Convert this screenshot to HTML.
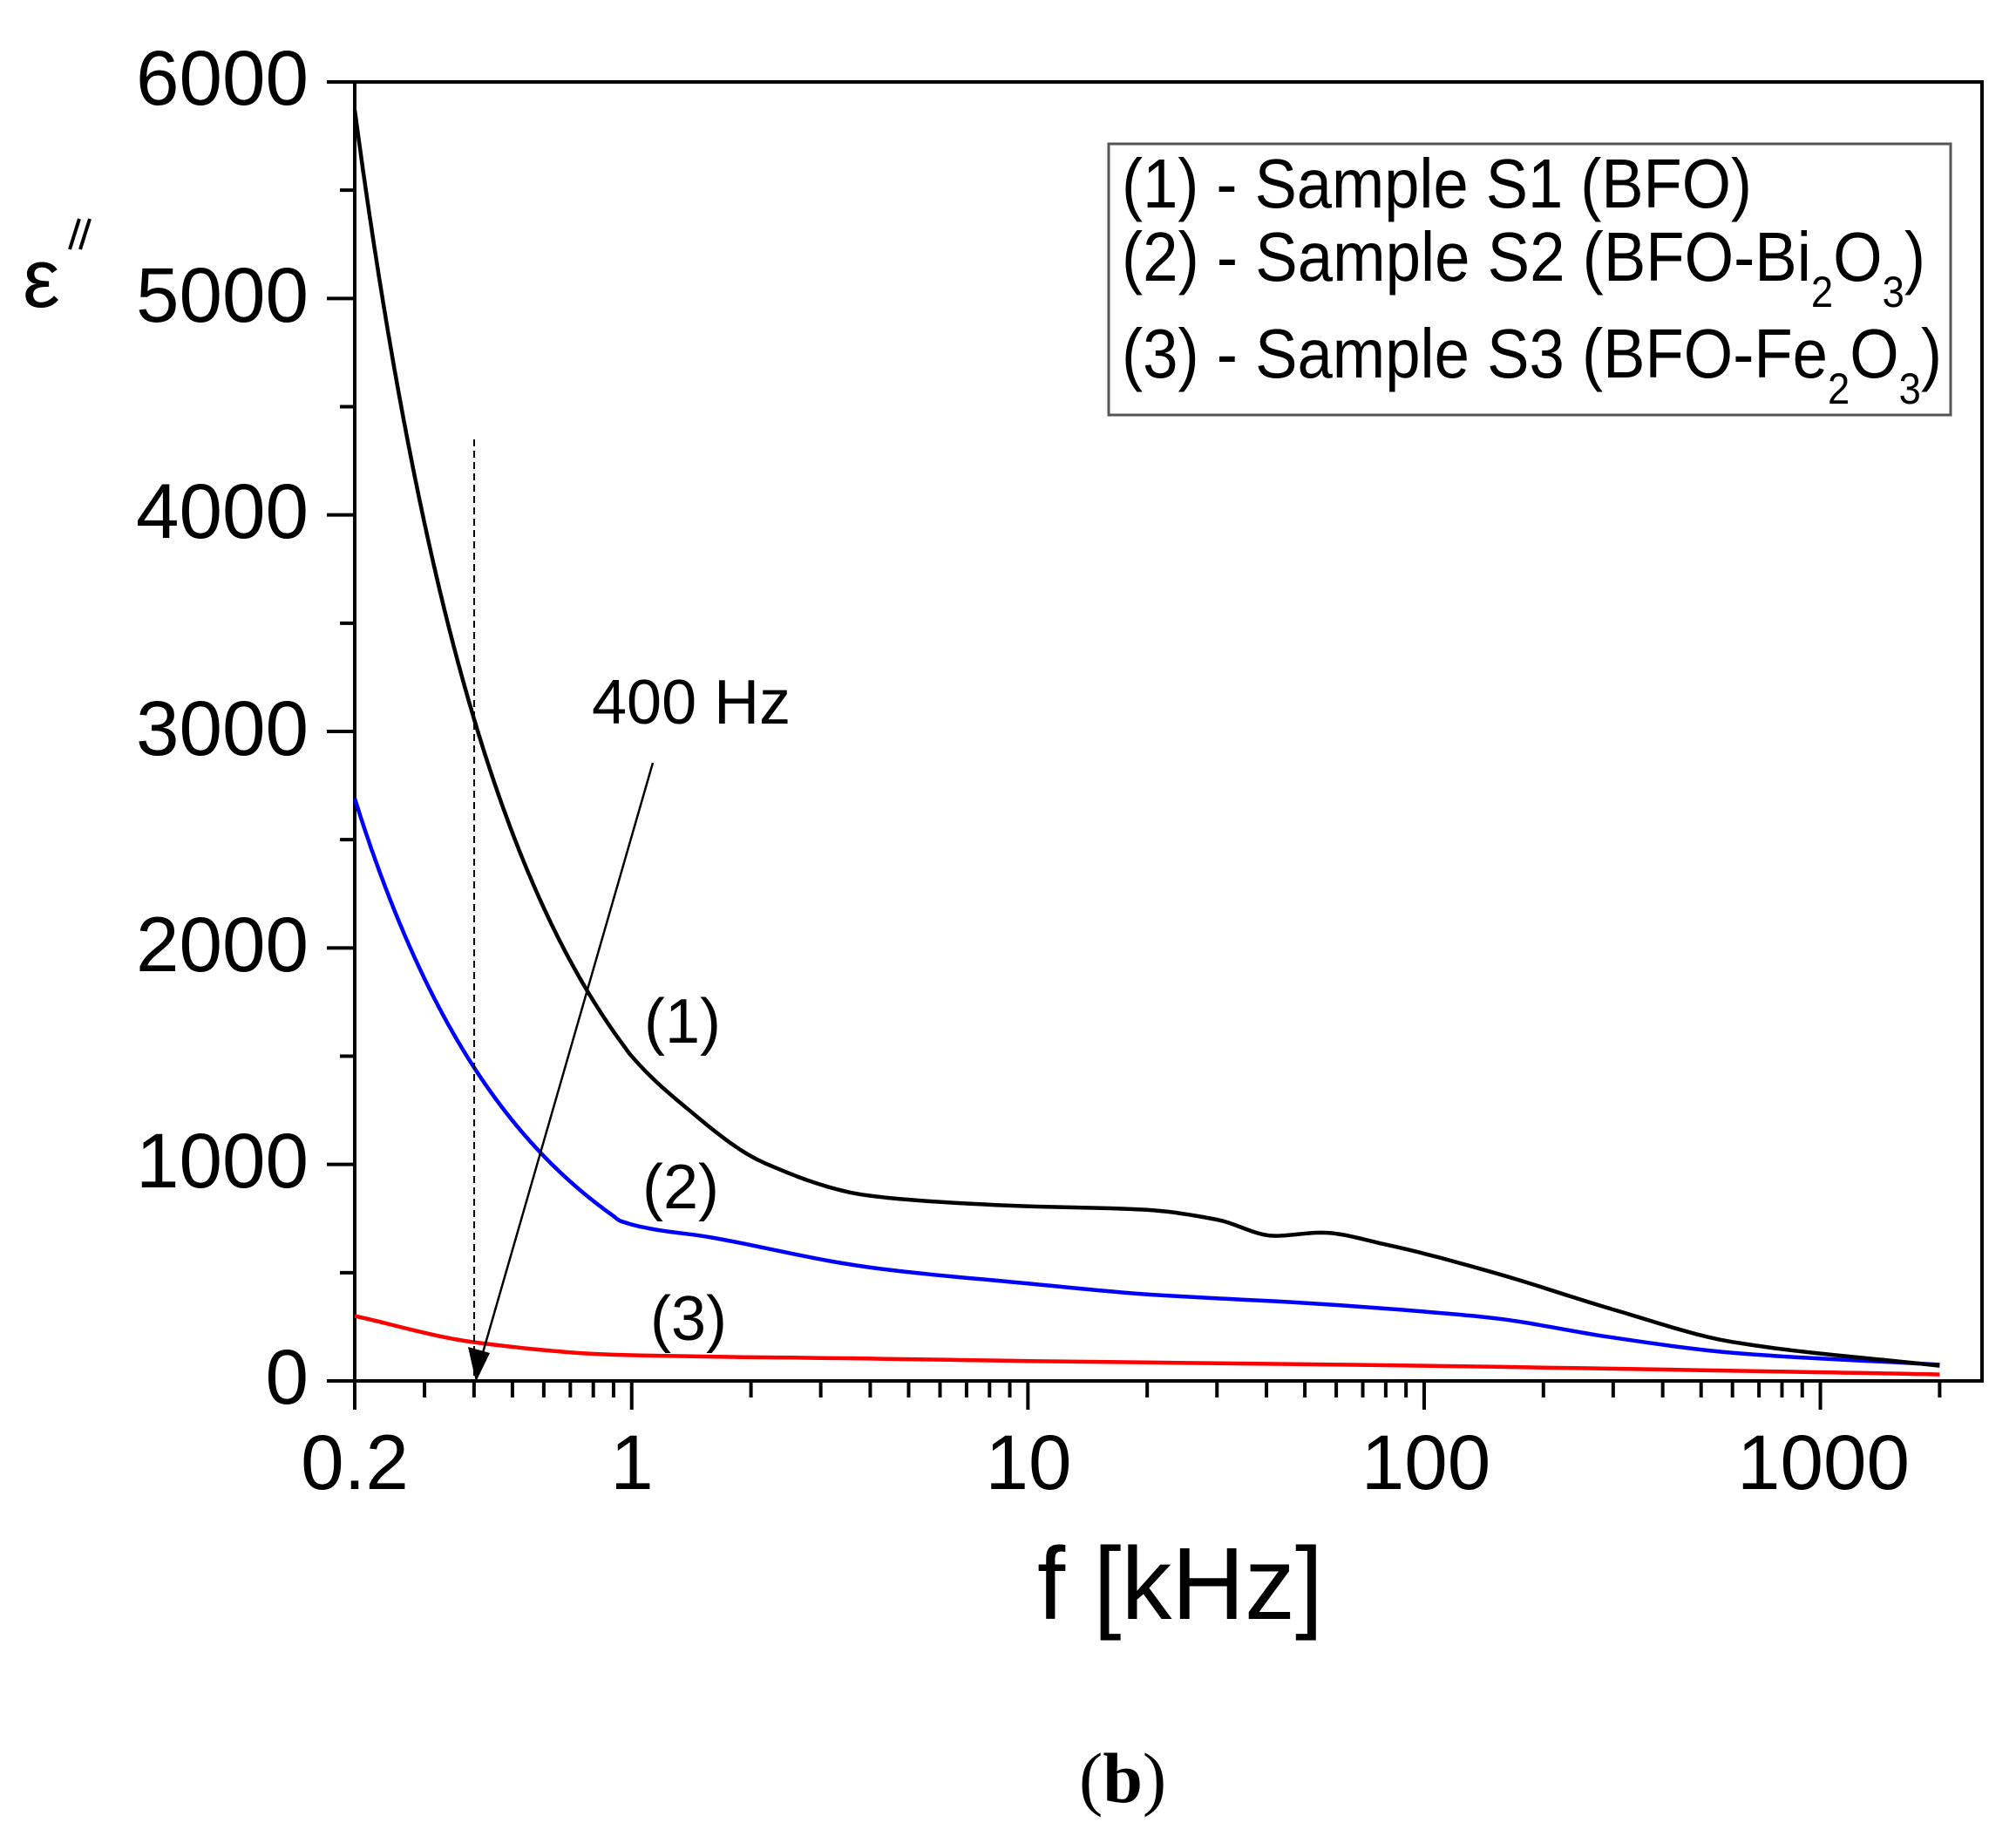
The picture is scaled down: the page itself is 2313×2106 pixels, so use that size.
<!DOCTYPE html>
<html><head><meta charset="utf-8"><style>
html,body{margin:0;padding:0;background:#fff;}
svg{display:block;}
text{font-family:"Liberation Sans",sans-serif;fill:#000;}
</style></head><body>
<svg id="s" width="2313" height="2106" viewBox="0 0 2313 2106" xmlns="http://www.w3.org/2000/svg">
<rect width="2313" height="2106" fill="#fff"/>
<g id="ticks" stroke="#000" stroke-width="4"></g>
<rect x="407" y="94" width="1867" height="1490" fill="none" stroke="#000" stroke-width="4"/>
<g font-size="89" text-anchor="end">
<text x="354" y="120">6000</text>
<text x="354" y="369">5000</text>
<text x="354" y="617">4000</text>
<text x="354" y="866">3000</text>
<text x="354" y="1114">2000</text>
<text x="354" y="1362">1000</text>
<text x="354" y="1610">0</text>
</g>
<g font-size="89" text-anchor="middle">
<text x="407" y="1708">0.2</text>
<text x="725" y="1708">1</text>
<text x="1180" y="1708">10</text>
<text x="1636" y="1708">100</text>
<text x="2092" y="1708">1000</text>
</g>
<text x="26" y="352" font-size="96">ε</text>
<line x1="80" y1="286" x2="91" y2="251" stroke="#000" stroke-width="4"/>
<line x1="92" y1="286" x2="103" y2="251" stroke="#000" stroke-width="4"/>
<text x="1190" y="1857" font-size="118" textLength="328" lengthAdjust="spacingAndGlyphs">f [kHz]</text>
<text x="1238" y="2067" font-size="82" style="font-family:'Liberation Serif',serif">(<tspan font-weight="bold">b</tspan>)</text>
<rect x="1272" y="165" width="966" height="311" fill="#fff" stroke="#555" stroke-width="3"/>
<g font-size="80">
<text x="1287" y="238" textLength="723" lengthAdjust="spacingAndGlyphs">(1) - Sample S1 (BFO)</text>
<text x="1287" y="322" textLength="922" lengthAdjust="spacingAndGlyphs">(2) - Sample S2 (BFO-Bi<tspan font-size="50" dy="30">2</tspan><tspan dy="-30">O</tspan><tspan font-size="50" dy="30">3</tspan><tspan dy="-30">)</tspan></text>
<text x="1287" y="433" textLength="941" lengthAdjust="spacingAndGlyphs">(3) - Sample S3 (BFO-Fe<tspan font-size="50" dy="30">2</tspan><tspan dy="-30">O</tspan><tspan font-size="50" dy="30">3</tspan><tspan dy="-30">)</tspan></text>
</g>
<g id="curves" fill="none" stroke-width="4.5" stroke-linejoin="round"></g>
<line x1="544" y1="504" x2="544" y2="1584" stroke="#000" stroke-width="2" stroke-dasharray="8,5"/>
<line x1="749" y1="875" x2="553" y2="1555" stroke="#000" stroke-width="2.5"/>
<polygon points="546,1585 537,1545 562,1552" fill="#000"/>
<g font-size="72">
<text x="679" y="830">400 Hz</text>
<text x="783" y="1196" text-anchor="middle">(1)</text>
<text x="781" y="1386" text-anchor="middle">(2)</text>
<text x="790" y="1537" text-anchor="middle">(3)</text>
</g>
</svg>
<script>
function X(f){return 407+(Math.log10(f)-Math.log10(0.2))*454.6;}
function Y(v){return 1584-v*0.24833;}
var t=document.getElementById('ticks'),h='';
for(var v=0;v<=6000;v+=500){var y=Y(v);var L=(v%1000==0)?32:17;h+='<line x1="'+(407-L)+'" y1="'+y+'" x2="407" y2="'+y+'"/>';}
var decs=[0.1,1,10,100,1000];
for(var d=0;d<decs.length;d++)for(var k=1;k<=9;k++){var f=decs[d]*k;if(f<0.2-1e-9||f>2000+1e-9)continue;var x=X(f);var L=(k==1)?33:19;h+='<line x1="'+x+'" y1="1584" x2="'+x+'" y2="'+(1584+L)+'"/>';}
h+='<line x1="'+X(0.2)+'" y1="1584" x2="'+X(0.2)+'" y2="1617"/>';
t.innerHTML=h;
function path(pts){
  var xs=pts.map(function(a){return Math.log10(a[0]);}),ys=pts.map(function(a){return a[1];}),n=xs.length;
  var dx=[],m=[],tg=[];
  for(var i=0;i<n-1;i++){dx[i]=xs[i+1]-xs[i];m[i]=(ys[i+1]-ys[i])/dx[i];}
  tg[0]=m[0];tg[n-1]=m[n-2];
  for(i=1;i<n-1;i++){if(m[i-1]*m[i]<=0)tg[i]=0;else{var w1=2*dx[i]+dx[i-1],w2=dx[i]+2*dx[i-1];tg[i]=(w1+w2)/(w1/m[i-1]+w2/m[i]);}}
  var s='';
  for(i=0;i<n-1;i++){
    for(var k=0;k<=10;k++){if(i>0&&k==0)continue;var u=k/10,h=dx[i];
      var h00=2*u*u*u-3*u*u+1,h10=u*u*u-2*u*u+u,h01=-2*u*u*u+3*u*u,h11=u*u*u-u*u;
      var yv=h00*ys[i]+h10*h*tg[i]+h01*ys[i+1]+h11*h*tg[i+1];
      var xv=xs[i]+u*h;
      s+=(s?' L':'M')+X(Math.pow(10,xv)).toFixed(1)+','+Y(yv).toFixed(1);}
  }
  return s;}
function gen(c0,c1,c2,Lmax){var a=[];for(var L=0;L<=Lmax+1e-9;L+=Lmax/30){a.push([0.2*Math.pow(10,L),Math.exp(c0+c1*L+c2*L*L)]);}return a;}
var black=gen(Math.log(5870),-2.327,0.536,0.699).concat([[1.342,1277],[2.16,1007],[4.04,854],[9,810],[20,790],[30,745],[42,670],[55,685],[80,630],[150,500],[300,330],[600,180],[2000,70]]);
var blue=gen(Math.log(2690),-2.164,0.355,0.672).concat([[1.62,660],[4.04,523],[10,450],[20,400],[50,360],[100,320],[150,290],[300,200],[600,130],[2000,75]]);
var red=[[0.2,300],[0.406,177],[0.91,121],[4,103],[10,92],[100,70],[1000,40],[2000,30]];
var c=document.getElementById('curves');
c.innerHTML='<path stroke="#f00" d="'+path(red)+'"/><path stroke="#00f" d="'+path(blue)+'"/><path stroke="#000" d="'+path(black)+'"/>';
</script>
</body></html>
